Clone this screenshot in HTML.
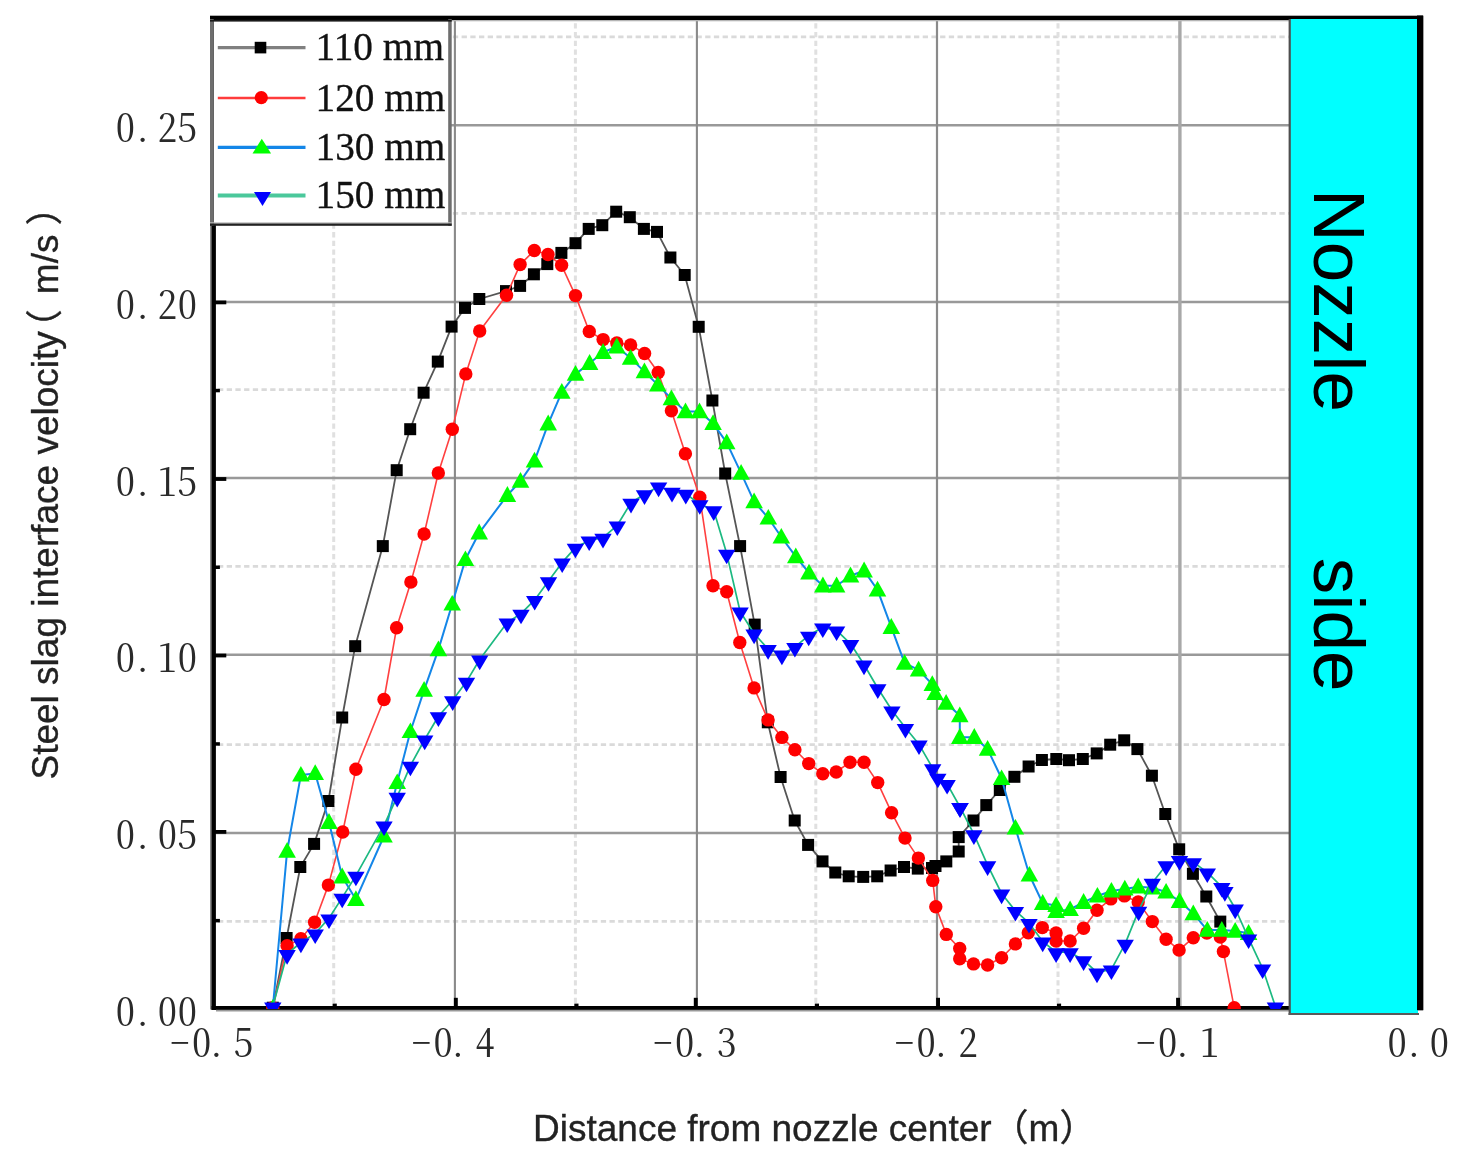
<!DOCTYPE html><html><head><meta charset="utf-8"><title>Steel slag interface velocity</title>
<style>html,body{margin:0;padding:0;background:#fff}svg{display:block}.tk{font-family:"Noto Serif CJK SC","IPAGothic",serif;font-feature-settings:"hwid";font-size:38.5px;fill:#2a2a2a}.ax{font-family:"Liberation Sans","Noto Sans CJK SC",sans-serif;font-size:37px;fill:#222;stroke:#222;stroke-width:.35px}.lg{font-family:"Liberation Serif",serif;font-size:39.3px;fill:#111;stroke:#111;stroke-width:.3px}.nz{font-family:"Liberation Sans",sans-serif;font-size:73px;fill:#000}</style></head><body>
<svg width="1465" height="1163" viewBox="0 0 1465 1163">
<rect width="1465" height="1163" fill="#fff"/>
<g stroke="#dadada" stroke-width="2.8" stroke-dasharray="5.3 3.4" fill="none">
<line x1="218" x2="1289" y1="921.4" y2="921.4"/>
<line x1="218" x2="1289" y1="744.6" y2="744.6"/>
<line x1="218" x2="1289" y1="566.4" y2="566.4"/>
<line x1="218" x2="1289" y1="389.7" y2="389.7"/>
<line x1="218" x2="1289" y1="213.4" y2="213.4"/>
<line x1="218" x2="1289" y1="36.9" y2="36.9"/>
<line y1="1003" y2="20" x1="333.7" x2="333.7" stroke="#e0e0e0" stroke-width="3"/>
<line y1="1003" y2="20" x1="575.4" x2="575.4" stroke="#e0e0e0" stroke-width="3"/>
<line y1="1003" y2="20" x1="815.8" x2="815.8" stroke="#e0e0e0" stroke-width="3"/>
<line y1="1003" y2="20" x1="1058.0" x2="1058.0" stroke="#e0e0e0" stroke-width="3"/>
</g>
<g fill="none">
<line x1="216" x2="1289" y1="833.0" y2="833.0" stroke="#999" stroke-width="2.5"/>
<line x1="216" x2="1289" y1="654.8" y2="654.8" stroke="#999" stroke-width="2.5"/>
<line x1="216" x2="1289" y1="477.9" y2="477.9" stroke="#999" stroke-width="2.5"/>
<line x1="216" x2="1289" y1="302.0" y2="302.0" stroke="#999" stroke-width="2.5"/>
<line x1="216" x2="1289" y1="125.3" y2="125.3" stroke="#999" stroke-width="2.5"/>
<line y1="20" y2="1006" x1="454.9" x2="454.9" stroke="#8a8a8a" stroke-width="2.1"/>
<line y1="20" y2="1006" x1="696.9" x2="696.9" stroke="#8a8a8a" stroke-width="2.1"/>
<line y1="20" y2="1006" x1="937.0" x2="937.0" stroke="#8a8a8a" stroke-width="2.2"/>
<line y1="20" y2="1006" x1="1179.9" x2="1179.9" stroke="#a8a8a8" stroke-width="3.4"/>
</g>
<rect x="210" y="19.5" width="2.2" height="990" fill="#8a8a8a"/>
<rect x="211.6" y="17" width="4.3" height="993" fill="#000"/>
<rect x="210" y="15.7" width="1213" height="4.3" fill="#000"/>
<rect x="212" y="20" width="1204" height="1.3" fill="#b5b5b5"/>
<rect x="1417" y="15.7" width="6.2" height="994.5" fill="#000"/>
<rect x="211.6" y="1006" width="1078" height="3.9" fill="#000"/>
<rect x="216" y="1009.9" width="1073" height="1.6" fill="#999"/>
<defs><clipPath id="pc"><rect x="214" y="18" width="1206" height="991"/></clipPath></defs>
<g clip-path="url(#pc)">
<polyline points="272.8,1007.7 286.6,938.0 300.3,867.0 314.1,843.9 328.4,801.0 342.2,717.5 355.2,646.2 382.8,546.1 396.7,470.2 410.2,429.2 423.6,392.7 437.8,361.6 451.6,326.6 465.0,307.9 479.3,299.0 506.0,291.1 520.1,285.9 533.9,274.3 547.3,264.1 561.4,252.9 575.5,243.2 588.7,228.9 602.3,225.2 616.2,211.7 629.8,217.2 643.9,228.9 657.0,231.9 670.4,257.5 684.7,275.0 698.7,326.8 712.4,400.5 725.2,473.5 740.1,546.1 754.7,624.6 767.8,722.3 780.6,777.0 794.7,820.5 808.1,844.9 822.5,861.4 835.3,872.5 848.7,876.3 863.2,876.9 877.2,876.3 890.6,870.5 904.0,867.0 917.8,868.6 932.0,868.0 935.5,866.0 946.3,861.4 958.7,851.5 958.7,837.1 973.5,820.5 986.3,805.1 999.8,790.0 1014.4,776.8 1028.6,766.5 1041.9,760.0 1056.3,759.0 1069.0,760.2 1082.8,759.0 1096.7,753.4 1110.2,744.7 1124.2,740.3 1137.4,749.1 1151.9,775.7 1165.3,814.0 1179.2,849.3 1192.9,873.8 1206.3,896.5 1220.3,921.6" fill="none" stroke="#555" stroke-width="1.8" stroke-linejoin="round"/>
<g fill="#000">
<rect x="266.8" y="1001.7" width="12" height="12"/>
<rect x="280.6" y="932.0" width="12" height="12"/>
<rect x="294.3" y="861.0" width="12" height="12"/>
<rect x="308.1" y="837.9" width="12" height="12"/>
<rect x="322.4" y="795.0" width="12" height="12"/>
<rect x="336.2" y="711.5" width="12" height="12"/>
<rect x="349.2" y="640.2" width="12" height="12"/>
<rect x="376.8" y="540.1" width="12" height="12"/>
<rect x="390.7" y="464.2" width="12" height="12"/>
<rect x="404.2" y="423.2" width="12" height="12"/>
<rect x="417.6" y="386.7" width="12" height="12"/>
<rect x="431.8" y="355.6" width="12" height="12"/>
<rect x="445.6" y="320.6" width="12" height="12"/>
<rect x="459.0" y="301.9" width="12" height="12"/>
<rect x="473.3" y="293.0" width="12" height="12"/>
<rect x="500.0" y="285.1" width="12" height="12"/>
<rect x="514.1" y="279.9" width="12" height="12"/>
<rect x="527.9" y="268.3" width="12" height="12"/>
<rect x="541.3" y="258.1" width="12" height="12"/>
<rect x="555.4" y="246.9" width="12" height="12"/>
<rect x="569.5" y="237.2" width="12" height="12"/>
<rect x="582.7" y="222.9" width="12" height="12"/>
<rect x="596.3" y="219.2" width="12" height="12"/>
<rect x="610.2" y="205.7" width="12" height="12"/>
<rect x="623.8" y="211.2" width="12" height="12"/>
<rect x="637.9" y="222.9" width="12" height="12"/>
<rect x="651.0" y="225.9" width="12" height="12"/>
<rect x="664.4" y="251.5" width="12" height="12"/>
<rect x="678.7" y="269.0" width="12" height="12"/>
<rect x="692.7" y="320.8" width="12" height="12"/>
<rect x="706.4" y="394.5" width="12" height="12"/>
<rect x="719.2" y="467.5" width="12" height="12"/>
<rect x="734.1" y="540.1" width="12" height="12"/>
<rect x="748.7" y="618.6" width="12" height="12"/>
<rect x="761.8" y="716.3" width="12" height="12"/>
<rect x="774.6" y="771.0" width="12" height="12"/>
<rect x="788.7" y="814.5" width="12" height="12"/>
<rect x="802.1" y="838.9" width="12" height="12"/>
<rect x="816.5" y="855.4" width="12" height="12"/>
<rect x="829.3" y="866.5" width="12" height="12"/>
<rect x="842.7" y="870.3" width="12" height="12"/>
<rect x="857.2" y="870.9" width="12" height="12"/>
<rect x="871.2" y="870.3" width="12" height="12"/>
<rect x="884.6" y="864.5" width="12" height="12"/>
<rect x="898.0" y="861.0" width="12" height="12"/>
<rect x="911.8" y="862.6" width="12" height="12"/>
<rect x="926.0" y="862.0" width="12" height="12"/>
<rect x="929.5" y="860.0" width="12" height="12"/>
<rect x="940.3" y="855.4" width="12" height="12"/>
<rect x="952.7" y="845.5" width="12" height="12"/>
<rect x="952.7" y="831.1" width="12" height="12"/>
<rect x="967.5" y="814.5" width="12" height="12"/>
<rect x="980.3" y="799.1" width="12" height="12"/>
<rect x="993.8" y="784.0" width="12" height="12"/>
<rect x="1008.4" y="770.8" width="12" height="12"/>
<rect x="1022.6" y="760.5" width="12" height="12"/>
<rect x="1035.9" y="754.0" width="12" height="12"/>
<rect x="1050.3" y="753.0" width="12" height="12"/>
<rect x="1063.0" y="754.2" width="12" height="12"/>
<rect x="1076.8" y="753.0" width="12" height="12"/>
<rect x="1090.7" y="747.4" width="12" height="12"/>
<rect x="1104.2" y="738.7" width="12" height="12"/>
<rect x="1118.2" y="734.3" width="12" height="12"/>
<rect x="1131.4" y="743.1" width="12" height="12"/>
<rect x="1145.9" y="769.7" width="12" height="12"/>
<rect x="1159.3" y="808.0" width="12" height="12"/>
<rect x="1173.2" y="843.3" width="12" height="12"/>
<rect x="1186.9" y="867.8" width="12" height="12"/>
<rect x="1200.3" y="890.5" width="12" height="12"/>
<rect x="1214.3" y="915.6" width="12" height="12"/>
</g>
<polyline points="272.8,1007.7 287.1,945.7 300.9,938.8 314.6,922.3 328.4,885.1 342.7,832.0 355.9,769.3 384.0,699.5 396.6,627.8 410.9,582.1 424.1,534.0 438.3,473.0 452.3,429.2 465.8,373.9 479.7,331.0 506.5,295.3 520.1,264.6 534.3,250.5 548.0,254.5 561.6,265.3 575.5,295.6 589.3,331.5 603.1,339.6 616.8,343.0 630.6,344.9 644.6,353.5 658.2,372.5 671.4,410.8 685.4,453.7 699.8,497.2 713.0,585.7 726.7,591.7 739.8,642.5 754.1,687.9 768.1,719.9 781.9,737.4 794.9,749.8 808.7,763.6 822.8,773.7 836.2,772.0 850.0,762.2 864.0,762.2 877.7,782.6 891.6,812.7 905.0,838.1 918.4,858.1 932.7,880.4 935.8,906.8 946.3,934.4 959.7,948.5 959.7,958.8 973.5,963.9 987.6,965.0 1001.6,957.7 1015.4,943.9 1028.3,932.7 1042.3,927.6 1056.1,933.0 1056.1,941.0 1070.1,941.0 1083.6,928.2 1097.0,910.3 1110.8,898.9 1124.4,895.9 1138.2,902.0 1152.3,921.6 1166.1,939.2 1179.1,950.1 1193.3,937.7 1206.9,933.0 1220.3,937.1 1223.4,951.6 1234.2,1007.7" fill="none" stroke="#ff4040" stroke-width="1.6" stroke-linejoin="round"/>
<g fill="#f00">
<circle cx="272.8" cy="1007.7" r="6.7"/>
<circle cx="287.1" cy="945.7" r="6.7"/>
<circle cx="300.9" cy="938.8" r="6.7"/>
<circle cx="314.6" cy="922.3" r="6.7"/>
<circle cx="328.4" cy="885.1" r="6.7"/>
<circle cx="342.7" cy="832.0" r="6.7"/>
<circle cx="355.9" cy="769.3" r="6.7"/>
<circle cx="384.0" cy="699.5" r="6.7"/>
<circle cx="396.6" cy="627.8" r="6.7"/>
<circle cx="410.9" cy="582.1" r="6.7"/>
<circle cx="424.1" cy="534.0" r="6.7"/>
<circle cx="438.3" cy="473.0" r="6.7"/>
<circle cx="452.3" cy="429.2" r="6.7"/>
<circle cx="465.8" cy="373.9" r="6.7"/>
<circle cx="479.7" cy="331.0" r="6.7"/>
<circle cx="506.5" cy="295.3" r="6.7"/>
<circle cx="520.1" cy="264.6" r="6.7"/>
<circle cx="534.3" cy="250.5" r="6.7"/>
<circle cx="548.0" cy="254.5" r="6.7"/>
<circle cx="561.6" cy="265.3" r="6.7"/>
<circle cx="575.5" cy="295.6" r="6.7"/>
<circle cx="589.3" cy="331.5" r="6.7"/>
<circle cx="603.1" cy="339.6" r="6.7"/>
<circle cx="616.8" cy="343.0" r="6.7"/>
<circle cx="630.6" cy="344.9" r="6.7"/>
<circle cx="644.6" cy="353.5" r="6.7"/>
<circle cx="658.2" cy="372.5" r="6.7"/>
<circle cx="671.4" cy="410.8" r="6.7"/>
<circle cx="685.4" cy="453.7" r="6.7"/>
<circle cx="699.8" cy="497.2" r="6.7"/>
<circle cx="713.0" cy="585.7" r="6.7"/>
<circle cx="726.7" cy="591.7" r="6.7"/>
<circle cx="739.8" cy="642.5" r="6.7"/>
<circle cx="754.1" cy="687.9" r="6.7"/>
<circle cx="768.1" cy="719.9" r="6.7"/>
<circle cx="781.9" cy="737.4" r="6.7"/>
<circle cx="794.9" cy="749.8" r="6.7"/>
<circle cx="808.7" cy="763.6" r="6.7"/>
<circle cx="822.8" cy="773.7" r="6.7"/>
<circle cx="836.2" cy="772.0" r="6.7"/>
<circle cx="850.0" cy="762.2" r="6.7"/>
<circle cx="864.0" cy="762.2" r="6.7"/>
<circle cx="877.7" cy="782.6" r="6.7"/>
<circle cx="891.6" cy="812.7" r="6.7"/>
<circle cx="905.0" cy="838.1" r="6.7"/>
<circle cx="918.4" cy="858.1" r="6.7"/>
<circle cx="932.7" cy="880.4" r="6.7"/>
<circle cx="935.8" cy="906.8" r="6.7"/>
<circle cx="946.3" cy="934.4" r="6.7"/>
<circle cx="959.7" cy="948.5" r="6.7"/>
<circle cx="959.7" cy="958.8" r="6.7"/>
<circle cx="973.5" cy="963.9" r="6.7"/>
<circle cx="987.6" cy="965.0" r="6.7"/>
<circle cx="1001.6" cy="957.7" r="6.7"/>
<circle cx="1015.4" cy="943.9" r="6.7"/>
<circle cx="1028.3" cy="932.7" r="6.7"/>
<circle cx="1042.3" cy="927.6" r="6.7"/>
<circle cx="1056.1" cy="933.0" r="6.7"/>
<circle cx="1056.1" cy="941.0" r="6.7"/>
<circle cx="1070.1" cy="941.0" r="6.7"/>
<circle cx="1083.6" cy="928.2" r="6.7"/>
<circle cx="1097.0" cy="910.3" r="6.7"/>
<circle cx="1110.8" cy="898.9" r="6.7"/>
<circle cx="1124.4" cy="895.9" r="6.7"/>
<circle cx="1138.2" cy="902.0" r="6.7"/>
<circle cx="1152.3" cy="921.6" r="6.7"/>
<circle cx="1166.1" cy="939.2" r="6.7"/>
<circle cx="1179.1" cy="950.1" r="6.7"/>
<circle cx="1193.3" cy="937.7" r="6.7"/>
<circle cx="1206.9" cy="933.0" r="6.7"/>
<circle cx="1220.3" cy="937.1" r="6.7"/>
<circle cx="1223.4" cy="951.6" r="6.7"/>
<circle cx="1234.2" cy="1007.7" r="6.7"/>
</g>
<polyline points="272.8,1008.0 287.1,851.1 300.9,775.0 315.2,773.4 329.0,822.2 342.2,876.8 355.9,899.4 384.0,836.0 397.2,782.5 410.4,731.5 424.1,690.1 438.4,649.6 452.2,604.0 465.4,559.5 479.2,532.8 507.4,495.2 520.5,481.1 534.5,460.9 548.2,423.8 561.8,392.1 575.5,374.1 589.6,363.2 603.1,352.2 616.8,346.8 630.6,358.1 644.4,371.6 657.8,384.9 671.4,398.6 685.5,411.6 699.5,411.6 713.1,423.4 726.7,442.6 741.1,473.1 754.1,501.6 768.3,518.0 781.3,537.0 795.8,556.6 809.0,572.9 822.9,585.8 836.6,585.8 850.5,575.8 864.1,570.8 877.5,589.9 891.3,627.2 904.6,663.1 918.6,669.9 932.3,684.4 935.1,693.5 946.1,703.1 959.8,715.6 959.8,737.2 974.3,737.2 987.6,749.1 1001.6,778.5 1015.4,828.0 1029.4,875.0 1042.7,903.2 1056.1,905.4 1056.1,911.5 1070.1,909.5 1083.6,902.2 1097.4,896.0 1111.4,891.0 1124.8,888.9 1138.2,886.8 1152.3,887.8 1166.1,892.0 1179.5,901.2 1193.3,913.6 1207.3,930.1 1221.8,930.1 1235.2,931.1 1248.6,933.2" fill="none" stroke="#1486e8" stroke-width="2" stroke-linejoin="round"/>
<g fill="#0f0">
<path d="M272.8 998.9L281.6 1014.6H264.0Z"/>
<path d="M287.1 842.0L295.9 857.8H278.3Z"/>
<path d="M300.9 765.9L309.7 781.6H292.1Z"/>
<path d="M315.2 764.2L324.0 780.0H306.4Z"/>
<path d="M329.0 813.1L337.8 828.9H320.2Z"/>
<path d="M342.2 867.6L351.0 883.4H333.4Z"/>
<path d="M355.9 890.2L364.7 906.0H347.1Z"/>
<path d="M384.0 826.9L392.8 842.6H375.2Z"/>
<path d="M397.2 773.4L406.0 789.1H388.4Z"/>
<path d="M410.4 722.4L419.2 738.1H401.6Z"/>
<path d="M424.1 681.0L432.9 696.8H415.3Z"/>
<path d="M438.4 640.5L447.2 656.2H429.6Z"/>
<path d="M452.2 594.9L461.0 610.6H443.4Z"/>
<path d="M465.4 550.4L474.2 566.1H456.6Z"/>
<path d="M479.2 523.6L488.0 539.4H470.4Z"/>
<path d="M507.4 486.1L516.2 501.9H498.6Z"/>
<path d="M520.5 471.9L529.3 487.7H511.7Z"/>
<path d="M534.5 451.8L543.3 467.5H525.7Z"/>
<path d="M548.2 414.6L557.0 430.4H539.4Z"/>
<path d="M561.8 382.9L570.6 398.7H553.0Z"/>
<path d="M575.5 364.9L584.3 380.7H566.7Z"/>
<path d="M589.6 354.1L598.4 369.9H580.8Z"/>
<path d="M603.1 343.1L611.9 358.9H594.3Z"/>
<path d="M616.8 337.6L625.6 353.4H608.0Z"/>
<path d="M630.6 349.0L639.4 364.8H621.8Z"/>
<path d="M644.4 362.5L653.2 378.2H635.6Z"/>
<path d="M657.8 375.8L666.6 391.5H649.0Z"/>
<path d="M671.4 389.5L680.2 405.2H662.6Z"/>
<path d="M685.5 402.4L694.3 418.2H676.7Z"/>
<path d="M699.5 402.4L708.3 418.2H690.7Z"/>
<path d="M713.1 414.3L721.9 430.1H704.3Z"/>
<path d="M726.7 433.4L735.5 449.2H717.9Z"/>
<path d="M741.1 463.9L749.9 479.7H732.3Z"/>
<path d="M754.1 492.4L762.9 508.2H745.3Z"/>
<path d="M768.3 508.9L777.1 524.6H759.5Z"/>
<path d="M781.3 527.9L790.1 543.6H772.5Z"/>
<path d="M795.8 547.5L804.6 563.2H787.0Z"/>
<path d="M809.0 563.8L817.8 579.5H800.2Z"/>
<path d="M822.9 576.6L831.7 592.4H814.1Z"/>
<path d="M836.6 576.6L845.4 592.4H827.8Z"/>
<path d="M850.5 566.6L859.3 582.4H841.7Z"/>
<path d="M864.1 561.6L872.9 577.4H855.3Z"/>
<path d="M877.5 580.8L886.3 596.5H868.7Z"/>
<path d="M891.3 618.1L900.1 633.9H882.5Z"/>
<path d="M904.6 654.0L913.4 669.8H895.8Z"/>
<path d="M918.6 660.8L927.4 676.5H909.8Z"/>
<path d="M932.3 675.2L941.1 691.0H923.5Z"/>
<path d="M935.1 684.4L943.9 700.1H926.3Z"/>
<path d="M946.1 694.0L954.9 709.8H937.3Z"/>
<path d="M959.8 706.5L968.6 722.2H951.0Z"/>
<path d="M959.8 728.1L968.6 743.9H951.0Z"/>
<path d="M974.3 728.1L983.1 743.9H965.5Z"/>
<path d="M987.6 740.0L996.4 755.8H978.8Z"/>
<path d="M1001.6 769.4L1010.4 785.1H992.8Z"/>
<path d="M1015.4 818.9L1024.2 834.6H1006.6Z"/>
<path d="M1029.4 865.9L1038.2 881.6H1020.6Z"/>
<path d="M1042.7 894.1L1051.5 909.9H1033.9Z"/>
<path d="M1056.1 896.2L1064.9 912.0H1047.3Z"/>
<path d="M1056.1 902.4L1064.9 918.1H1047.3Z"/>
<path d="M1070.1 900.4L1078.9 916.1H1061.3Z"/>
<path d="M1083.6 893.1L1092.4 908.9H1074.8Z"/>
<path d="M1097.4 886.9L1106.2 902.6H1088.6Z"/>
<path d="M1111.4 881.9L1120.2 897.6H1102.6Z"/>
<path d="M1124.8 879.8L1133.6 895.5H1116.0Z"/>
<path d="M1138.2 877.6L1147.0 893.4H1129.4Z"/>
<path d="M1152.3 878.6L1161.1 894.4H1143.5Z"/>
<path d="M1166.1 882.9L1174.9 898.6H1157.3Z"/>
<path d="M1179.5 892.1L1188.3 907.9H1170.7Z"/>
<path d="M1193.3 904.5L1202.1 920.2H1184.5Z"/>
<path d="M1207.3 921.0L1216.1 936.8H1198.5Z"/>
<path d="M1221.8 921.0L1230.6 936.8H1213.0Z"/>
<path d="M1235.2 922.0L1244.0 937.8H1226.4Z"/>
<path d="M1248.6 924.1L1257.4 939.9H1239.8Z"/>
</g>
<polyline points="272.8,1006.5 287.1,954.0 300.9,942.5 315.2,933.4 329.0,918.3 342.2,897.6 355.9,875.6 384.0,825.3 397.2,796.7 410.4,765.6 424.7,739.5 438.4,716.2 452.7,700.2 466.5,681.6 479.7,659.5 507.2,622.4 521.0,613.6 534.7,599.9 548.5,581.1 562.2,562.4 575.4,547.6 589.2,540.4 603.0,537.7 617.3,525.3 631.0,502.7 644.5,494.2 658.6,486.5 672.0,491.7 685.8,493.7 699.8,504.1 713.7,510.2 726.7,553.6 740.1,611.5 754.1,633.5 768.1,649.0 781.9,654.5 794.9,646.9 808.7,635.6 822.8,627.3 836.6,630.4 850.6,643.8 864.0,664.5 877.8,688.2 891.9,710.3 905.4,727.8 919.0,744.3 932.7,768.2 937.8,777.6 947.1,783.9 960.0,807.0 960.0,807.0 973.9,834.2 987.6,865.2 1001.6,893.5 1015.4,910.9 1029.0,922.9 1042.7,941.5 1056.1,952.2 1070.1,952.2 1083.6,960.2 1097.0,972.5 1111.4,969.4 1125.2,943.6 1138.6,910.6 1152.3,882.7 1166.1,865.2 1179.5,860.0 1193.3,862.1 1207.3,872.4 1221.8,886.8 1224.9,891.0 1235.2,908.5 1248.6,938.4 1262.6,968.3 1275.4,1006.5" fill="none" stroke="#1cb981" stroke-width="1.7" stroke-linejoin="round"/>
<g fill="#00f">
<path d="M272.8 1017.2L281.5 1002.6H264.1Z"/>
<path d="M287.1 964.7L295.8 950.1H278.4Z"/>
<path d="M300.9 953.2L309.6 938.6H292.2Z"/>
<path d="M315.2 944.1L323.9 929.5H306.5Z"/>
<path d="M329.0 929.0L337.7 914.4H320.3Z"/>
<path d="M342.2 908.3L350.9 893.7H333.5Z"/>
<path d="M355.9 886.3L364.6 871.7H347.2Z"/>
<path d="M384.0 836.0L392.7 821.4H375.3Z"/>
<path d="M397.2 807.4L405.9 792.8H388.5Z"/>
<path d="M410.4 776.3L419.1 761.7H401.7Z"/>
<path d="M424.7 750.2L433.4 735.6H416.0Z"/>
<path d="M438.4 726.9L447.1 712.3H429.7Z"/>
<path d="M452.7 710.9L461.4 696.3H444.0Z"/>
<path d="M466.5 692.3L475.2 677.7H457.8Z"/>
<path d="M479.7 670.2L488.4 655.6H471.0Z"/>
<path d="M507.2 633.1L515.9 618.5H498.5Z"/>
<path d="M521.0 624.3L529.7 609.7H512.3Z"/>
<path d="M534.7 610.6L543.4 596.0H526.0Z"/>
<path d="M548.5 591.8L557.2 577.2H539.8Z"/>
<path d="M562.2 573.1L570.9 558.5H553.5Z"/>
<path d="M575.4 558.3L584.1 543.7H566.7Z"/>
<path d="M589.2 551.1L597.9 536.5H580.5Z"/>
<path d="M603.0 548.4L611.7 533.8H594.3Z"/>
<path d="M617.3 536.0L626.0 521.4H608.6Z"/>
<path d="M631.0 513.4L639.7 498.8H622.3Z"/>
<path d="M644.5 504.9L653.2 490.3H635.8Z"/>
<path d="M658.6 497.2L667.3 482.6H649.9Z"/>
<path d="M672.0 502.4L680.7 487.8H663.3Z"/>
<path d="M685.8 504.4L694.5 489.8H677.1Z"/>
<path d="M699.8 514.8L708.5 500.2H691.1Z"/>
<path d="M713.7 520.9L722.4 506.3H705.0Z"/>
<path d="M726.7 564.3L735.4 549.7H718.0Z"/>
<path d="M740.1 622.2L748.8 607.6H731.4Z"/>
<path d="M754.1 644.2L762.8 629.6H745.4Z"/>
<path d="M768.1 659.7L776.8 645.1H759.4Z"/>
<path d="M781.9 665.2L790.6 650.6H773.2Z"/>
<path d="M794.9 657.6L803.6 643.0H786.2Z"/>
<path d="M808.7 646.3L817.4 631.7H800.0Z"/>
<path d="M822.8 638.0L831.5 623.4H814.1Z"/>
<path d="M836.6 641.1L845.3 626.5H827.9Z"/>
<path d="M850.6 654.5L859.3 639.9H841.9Z"/>
<path d="M864.0 675.2L872.7 660.6H855.3Z"/>
<path d="M877.8 698.9L886.5 684.3H869.1Z"/>
<path d="M891.9 721.0L900.6 706.4H883.2Z"/>
<path d="M905.4 738.5L914.1 723.9H896.7Z"/>
<path d="M919.0 755.0L927.7 740.4H910.3Z"/>
<path d="M932.7 778.9L941.4 764.3H924.0Z"/>
<path d="M937.8 788.3L946.5 773.7H929.1Z"/>
<path d="M947.1 794.6L955.8 780.0H938.4Z"/>
<path d="M960.0 817.7L968.7 803.1H951.3Z"/>
<path d="M960.0 817.7L968.7 803.1H951.3Z"/>
<path d="M973.9 844.9L982.6 830.3H965.2Z"/>
<path d="M987.6 875.9L996.3 861.3H978.9Z"/>
<path d="M1001.6 904.2L1010.3 889.6H992.9Z"/>
<path d="M1015.4 921.6L1024.1 907.0H1006.7Z"/>
<path d="M1029.0 933.6L1037.7 919.0H1020.3Z"/>
<path d="M1042.7 952.2L1051.4 937.6H1034.0Z"/>
<path d="M1056.1 962.9L1064.8 948.3H1047.4Z"/>
<path d="M1070.1 962.9L1078.8 948.3H1061.4Z"/>
<path d="M1083.6 970.9L1092.3 956.3H1074.9Z"/>
<path d="M1097.0 983.2L1105.7 968.6H1088.3Z"/>
<path d="M1111.4 980.1L1120.1 965.5H1102.7Z"/>
<path d="M1125.2 954.3L1133.9 939.7H1116.5Z"/>
<path d="M1138.6 921.3L1147.3 906.7H1129.9Z"/>
<path d="M1152.3 893.4L1161.0 878.8H1143.6Z"/>
<path d="M1166.1 875.9L1174.8 861.3H1157.4Z"/>
<path d="M1179.5 870.7L1188.2 856.1H1170.8Z"/>
<path d="M1193.3 872.8L1202.0 858.2H1184.6Z"/>
<path d="M1207.3 883.1L1216.0 868.5H1198.6Z"/>
<path d="M1221.8 897.5L1230.5 882.9H1213.1Z"/>
<path d="M1224.9 901.7L1233.6 887.1H1216.2Z"/>
<path d="M1235.2 919.2L1243.9 904.6H1226.5Z"/>
<path d="M1248.6 949.1L1257.3 934.5H1239.9Z"/>
<path d="M1262.6 979.0L1271.3 964.4H1253.9Z"/>
<path d="M1275.4 1017.2L1284.1 1002.6H1266.7Z"/>
</g>
</g>
<rect x="1289.7" y="19" width="128.3" height="994.5" fill="#0ff"/>
<rect x="1288.6" y="19" width="2.2" height="996" fill="#4f4f4f"/>
<rect x="1288.6" y="1013" width="130.4" height="2" fill="#5a5a5a"/>
<rect x="1417" y="15.7" width="6.2" height="994.5" fill="#000"/>
<rect x="215" y="830.0" width="11.3" height="3.8" fill="#000"/>
<rect x="215" y="653.6" width="11.3" height="3.8" fill="#000"/>
<rect x="215" y="477.1" width="11.3" height="3.8" fill="#000"/>
<rect x="215" y="300.5" width="11.3" height="3.8" fill="#000"/>
<rect x="215" y="123.6" width="11.3" height="3.8" fill="#000"/>
<rect x="215" y="918.9" width="4.9" height="3.5" fill="#000"/>
<rect x="215" y="742.2" width="4.9" height="3.5" fill="#000"/>
<rect x="215" y="565.5" width="4.9" height="3.5" fill="#000"/>
<rect x="215" y="388.8" width="4.9" height="3.5" fill="#000"/>
<rect x="215" y="212.1" width="4.9" height="3.5" fill="#000"/>
<rect x="215" y="35.3" width="4.9" height="3.5" fill="#000"/>
<rect x="453.9" y="997.8" width="3.9" height="9" fill="#000"/>
<rect x="693.8" y="997.8" width="3.9" height="9" fill="#000"/>
<rect x="936.1" y="997.8" width="3.9" height="9" fill="#000"/>
<rect x="1176.1" y="997.8" width="3.9" height="9" fill="#000"/>
<rect x="332.6" y="1003.6" width="4.2" height="3" fill="#000"/>
<rect x="574.3" y="1003.6" width="4.2" height="3" fill="#000"/>
<rect x="814.8" y="1003.6" width="4.2" height="3" fill="#000"/>
<rect x="1056.9" y="1003.6" width="4.2" height="3" fill="#000"/>
<rect x="213.7" y="20" width="236.3" height="204" fill="#fff"/>
<rect x="210" y="19" width="3.7" height="206.8" fill="#6e6e6e"/>
<rect x="448.2" y="19" width="3.5" height="206.8" fill="#6e6e6e"/>
<rect x="210" y="222.3" width="241.7" height="1.4" fill="#bbb"/>
<rect x="210" y="19.8" width="241.7" height="1.8" fill="#1a1a1a"/>
<rect x="210" y="223.5" width="241.7" height="2.3" fill="#222"/>
<line x1="217.8" x2="305.5" y1="47.6" y2="47.6" stroke="#808080" stroke-width="3.2"/>
<rect x="254.7" y="41.800000000000004" width="11.6" height="11.6" fill="#000"/>
<line x1="217.8" x2="305.5" y1="98" y2="98" stroke="#ff3c3c" stroke-width="2.4"/>
<circle cx="261.3" cy="97.7" r="6.6" fill="#f00"/>
<line x1="217.8" x2="305.5" y1="147.4" y2="147.4" stroke="#1486e8" stroke-width="3.4"/>
<path d="M261.8 138.7L271.1 153.6H252.5Z" fill="#0f0"/>
<line x1="217.8" x2="305.5" y1="195.6" y2="195.6" stroke="#4bc89b" stroke-width="4"/>
<path d="M262.5 206.0L271.0 191.9H254.0Z" fill="#00f"/>
<text class="lg" x="315.5" y="60.2">110 mm</text>
<text class="lg" x="315.5" y="110.6">120 mm</text>
<text class="lg" x="315.5" y="160.0">130 mm</text>
<text class="lg" x="315.5" y="208.2">150 mm</text>
<text class="tk" x="115.8 133.0 157.8 177.7" y="1025.6">0.00</text>
<text class="tk" x="115.8 133.0 157.8 177.7" y="848.9">0.05</text>
<text class="tk" x="115.8 133.0 157.8 177.7" y="672.2">0.10</text>
<text class="tk" x="115.8 133.0 157.8 177.7" y="495.5">0.15</text>
<text class="tk" x="115.8 133.0 157.8 177.7" y="318.8">0.20</text>
<text class="tk" x="115.8 133.0 157.8 177.7" y="142.1">0.25</text>
<text class="tk" x="170.2 191.9 206.7 233.9" y="1057.4">-0.5</text>
<text class="tk" x="411.7 433.4 448.2 475.4" y="1057.4">-0.4</text>
<text class="tk" x="653.2 674.9 689.7 716.9" y="1057.4">-0.3</text>
<text class="tk" x="894.7 916.4 931.2 958.4" y="1057.4">-0.2</text>
<text class="tk" x="1136.2 1157.9 1172.7 1199.9" y="1057.4">-0.1</text>
<text class="tk" x="1387.6 1404.2 1429.8" y="1057.4">0.0</text>
<text class="ax" x="533" y="1141">Distance from nozzle center（m）</text>
<text class="ax" transform="translate(57.7 779.5) rotate(-90)">Steel slag interface velocity<tspan dx="-15">（</tspan><tspan dx="15">m/s</tspan><tspan dx="9">）</tspan></text>
<text class="nz" transform="translate(1313.5 189) rotate(90)">Nozzle</text>
<text class="nz" transform="translate(1313.5 557.7) rotate(90)">side</text>
</svg></body></html>
